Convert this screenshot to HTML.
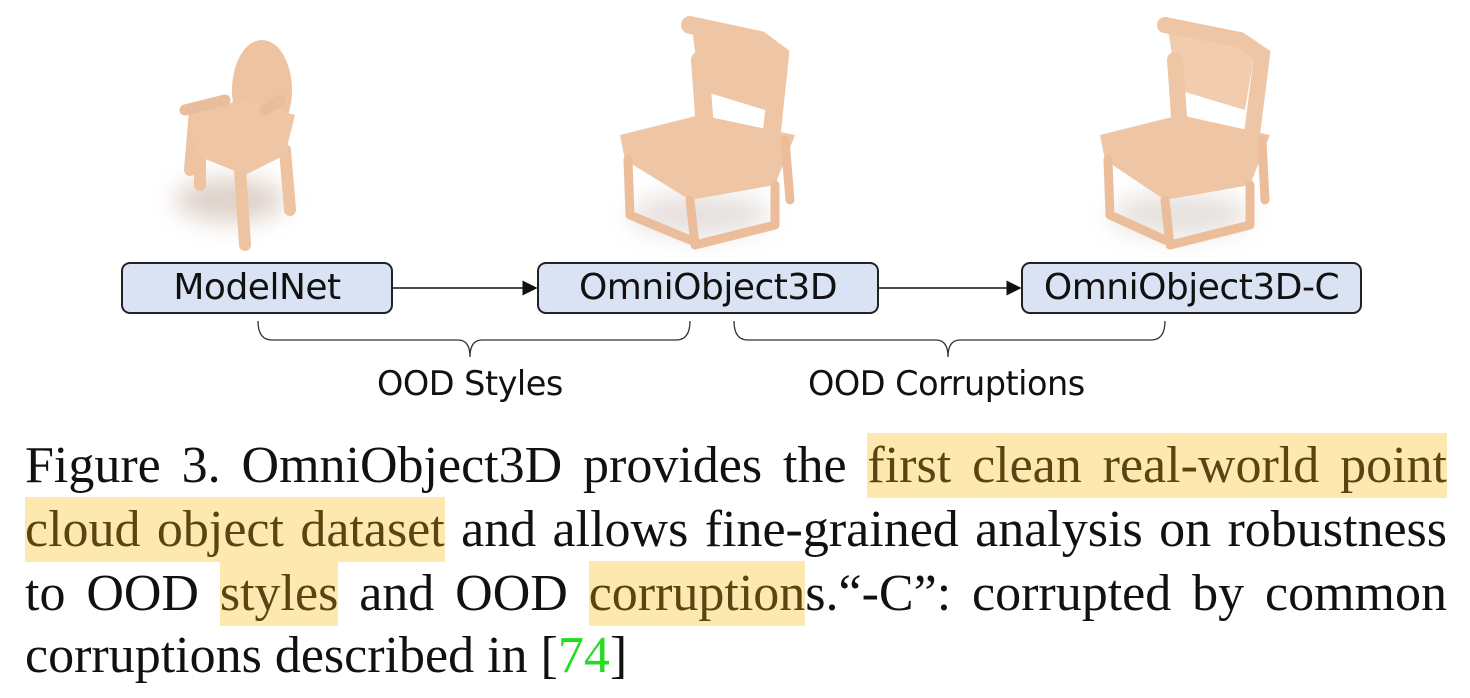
<!DOCTYPE html>
<html><head><meta charset="utf-8"><style>
html,body{margin:0;padding:0;background:#fff;width:1470px;height:698px;overflow:hidden}
.box{position:absolute;top:262px;height:52px;background:#dae3f3;border:2px solid #222;border-radius:9px;box-sizing:border-box;font-family:"DejaVu Sans","Liberation Sans",sans-serif;font-size:36px;color:#111;text-align:center;line-height:48px;letter-spacing:-0.5px}
.lbl{position:absolute;font-family:"DejaVu Sans","Liberation Sans",sans-serif;font-size:33.5px;color:#111;letter-spacing:-0.5px}
.cap{position:absolute;left:25px;width:1422px;font-family:"Liberation Serif",serif;font-size:52px;line-height:60px;color:#111;white-space:nowrap;text-align:justify;text-align-last:justify}
.hl{background:#fde8b0;color:#5a4512;padding:4px 0}
</style></head><body>
<svg width="1470" height="420" style="position:absolute;left:0;top:0">
<defs><filter id="b" x="-50%" y="-50%" width="200%" height="200%"><feGaussianBlur stdDeviation="12"/></filter>
<marker id="ah" markerWidth="10" markerHeight="10" refX="9" refY="5" orient="auto"><path d="M0,0 L10,5 L0,10 z" fill="#111"/></marker></defs>
<g>
<ellipse cx="230" cy="200" rx="55" ry="22" fill="#c9b2a6" opacity="0.6" filter="url(#b)"/>
<g stroke="#edc3a2" stroke-width="12" stroke-linecap="round" stroke-linejoin="round" fill="none">
<path d="M200,160 L200,185 M240,170 L245,245 M285,150 L290,210 M195,110 L190,170"/>
</g>
<ellipse cx="262" cy="90" rx="30" ry="50" fill="#edc3a2"/>
<path d="M190,115 L240,100 L295,115 L285,155 L245,175 L195,155 Z" fill="#efc6a5"/>
<path d="M185,110 L225,100 M265,110 L280,100" stroke="#e9bd9b" stroke-width="11" stroke-linecap="round"/>
</g>
<g>
<ellipse cx="700" cy="215" rx="70" ry="22" fill="#cfc4bd" opacity="0.5" filter="url(#b)"/>
<path d="M690,25 L760,40 L780,55 L770,150 M700,60 L705,130" stroke="#efc6a5" stroke-width="18" stroke-linecap="round" fill="none"/>
<path d="M692,28 L775,50 L765,110 L700,90 Z" fill="#efc6a5"/>
<path d="M620,135 L700,115 L795,135 L775,185 L690,200 L625,160 Z" fill="#efc6a5"/>
<g stroke="#ebbd9b" stroke-width="9" stroke-linecap="round" fill="none">
<path d="M628,160 L630,215 M690,200 L695,245 M775,185 L775,225 M785,140 L790,200 M630,215 L690,240 M695,245 L775,225"/>
</g></g>
<g>
<ellipse cx="1180" cy="215" rx="70" ry="22" fill="#cfc4bd" opacity="0.5" filter="url(#b)"/>
<path d="M1165,25 L1240,40 L1262,55 L1250,150 M1175,60 L1180,130" stroke="#efc6a5" stroke-width="16" stroke-linecap="round" fill="none"/>
<path d="M1168,30 L1255,50 L1245,110 L1178,90 Z" fill="#efc6a5" opacity="0.9"/>
<path d="M1100,135 L1180,115 L1270,135 L1250,185 L1165,200 L1105,160 Z" fill="#efc6a5"/>
<g stroke="#ebbd9b" stroke-width="9" stroke-linecap="round" fill="none">
<path d="M1108,160 L1110,215 M1165,200 L1170,245 M1250,185 L1250,225 M1262,140 L1265,200 M1110,215 L1165,240 M1170,245 L1250,225"/>
</g></g>
<line x1="393" y1="288" x2="536" y2="288" stroke="#111" stroke-width="1.5" marker-end="url(#ah)"/>
<line x1="879" y1="288" x2="1020" y2="288" stroke="#111" stroke-width="1.5" marker-end="url(#ah)"/>
<path d="M258,321 Q258,340 272,340 L458,340 Q470,340 470,357 Q470,340 482,340 L676,340 Q690,340 690,321" stroke="#333" stroke-width="1.3" fill="none"/>
<path d="M734,321 Q734,340 748,340 L936,340 Q948,340 948,357 Q948,340 960,340 L1151,340 Q1165,340 1165,321" stroke="#333" stroke-width="1.3" fill="none"/>
</svg>
<div class="box" style="left:121px;width:272px">ModelNet</div>
<div class="box" style="left:537px;width:342px">OmniObject3D</div>
<div class="box" style="left:1021px;width:341px">OmniObject3D-C</div>
<div class="lbl" style="left:377px;top:364px">OOD Styles</div>
<div class="lbl" style="left:808px;top:364px">OOD Corruptions</div>
<div class="cap" style="top:436px">Figure 3. OmniObject3D provides the <span class="hl">first clean real-world point</span></div>
<div class="cap" style="top:500px"><span class="hl">cloud object dataset</span> and allows fine-grained analysis on robustness</div>
<div class="cap" style="top:564px">to OOD <span class="hl">styles</span> and OOD <span class="hl">corruption</span>s.“-C”: corrupted by common</div>
<div class="cap" style="top:626px;text-align-last:left">corruptions described in [<span style="color:#22dd22">74</span>]</div>
</body></html>
